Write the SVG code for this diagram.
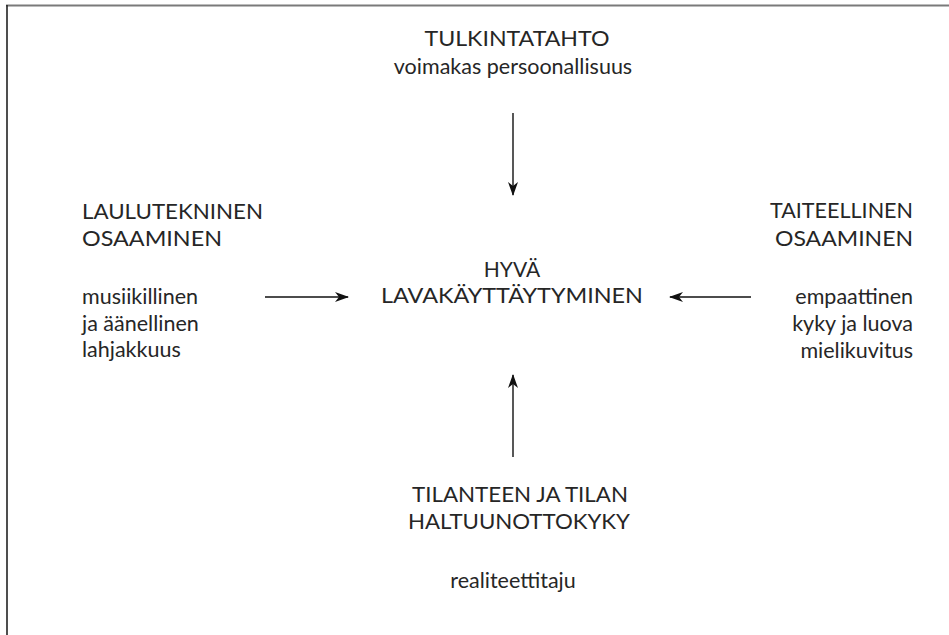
<svg xmlns="http://www.w3.org/2000/svg" width="949" height="635" viewBox="0 0 949 635">
<style>
text{font-family:Lato,"Open Sans","Liberation Sans",sans-serif;font-size:21px;font-weight:400;fill:#262626}
.l{font-size:21.5px}
.c{text-anchor:middle}
.r{text-anchor:end}
.conn line{stroke:#111;stroke-width:1.4;fill:none;marker-end:url(#ah)}
</style>
<defs>
<marker id="ah" viewBox="0 0 14 10" refX="13" refY="5" markerWidth="14" markerHeight="10" markerUnits="userSpaceOnUse" orient="auto">
<path d="M0,0 L14,5 L0,10 L4,5 z" fill="#111"/>
</marker>
</defs>
<rect width="949" height="635" fill="#fff"/>
<line x1="6" y1="5.5" x2="949" y2="5.5" stroke="#7a7a7a" stroke-width="2"/>
<line x1="7" y1="5" x2="7" y2="635" stroke="#222" stroke-width="1.6"/>
<g id="top">
<text class="c" x="517" y="46" textLength="185" lengthAdjust="spacingAndGlyphs">TULKINTATAHTO</text>
<text class="c l" x="513" y="74">voimakas persoonallisuus</text>
</g>
<g id="left">
<text x="82" y="219" textLength="181" lengthAdjust="spacingAndGlyphs">LAULUTEKNINEN</text>
<text x="82" y="246" textLength="140" lengthAdjust="spacingAndGlyphs">OSAAMINEN</text>
<text class="l" x="82" y="304">musiikillinen</text>
<text class="l" x="82" y="331">ja äänellinen</text>
<text class="l" x="82" y="357">lahjakkuus</text>
</g>
<g id="center">
<text class="c" x="512" y="277">HYVÄ</text>
<text class="c" x="512" y="303" textLength="262" lengthAdjust="spacingAndGlyphs">LAVAKÄYTTÄYTYMINEN</text>
</g>
<g id="right">
<text class="r" x="913" y="218" textLength="143" lengthAdjust="spacingAndGlyphs">TAITEELLINEN</text>
<text class="r" x="913" y="246" textLength="138" lengthAdjust="spacingAndGlyphs">OSAAMINEN</text>
<text class="r l" x="913" y="304">empaattinen</text>
<text class="r l" x="913" y="331">kyky ja luova</text>
<text class="r l" x="913" y="358">mielikuvitus</text>
</g>
<g id="bottom">
<text class="c" x="520" y="502" textLength="216" lengthAdjust="spacingAndGlyphs">TILANTEEN JA TILAN</text>
<text class="c" x="519" y="529" textLength="222" lengthAdjust="spacingAndGlyphs">HALTUUNOTTOKYKY</text>
<text class="c l" x="513" y="588">realiteettitaju</text>
</g>
<g class="conn">
<line x1="513" y1="113" x2="513" y2="195"/>
<line x1="265" y1="297" x2="348" y2="297"/>
<line x1="751" y1="297" x2="670" y2="297"/>
<line x1="513" y1="457" x2="513" y2="375"/>
</g>
</svg>
